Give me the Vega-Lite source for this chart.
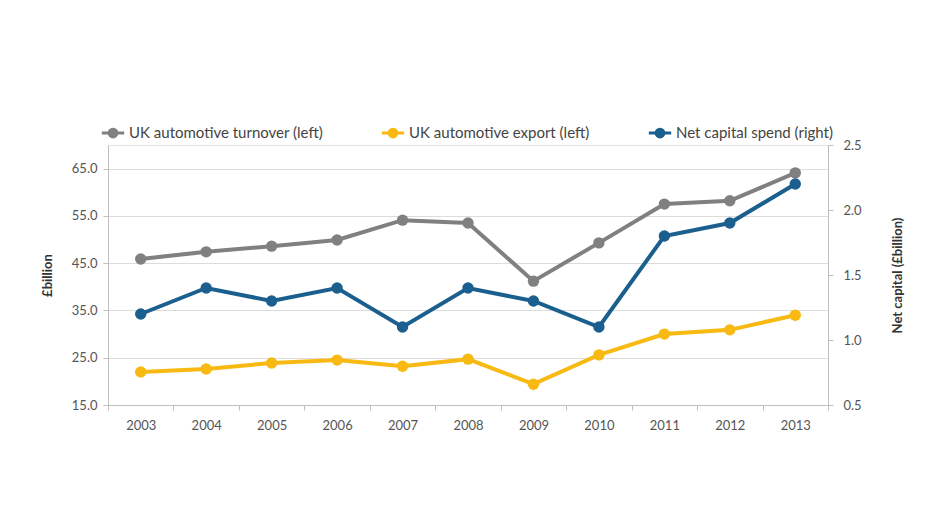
{
  "$schema": "https://vega.github.io/schema/vega-lite/v6.json",
  "autosize": {"type": "none"},
  "width": 720,
  "height": 260,
  "padding": {"left": 108, "top": 145, "right": 100, "bottom": 111},
  "background": "white",
  "config": {
    "font": "Lato",
    "view": {"stroke": "#e3e3e3", "strokeWidth": 1},
    "axis": {"labelFont": "Lato", "titleFont": "Lato", "labelColor": "#555555", "titleColor": "#333333", "labelFontSize": 13, "titleFontSize": 13, "titleFontWeight": "bold", "domainColor": "#bfbfbf", "tickColor": "#bfbfbf", "gridColor": "#dcdcdc"},
    "legend": {"labelFont": "Lato", "labelFontSize": 15, "labelColor": "#444444", "labelLimit": 400}
  },
  "data": {"values": [
    {"year": "2003", "series": "UK automotive turnover (left)", "value": 45.9},
    {"year": "2004", "series": "UK automotive turnover (left)", "value": 47.4},
    {"year": "2005", "series": "UK automotive turnover (left)", "value": 48.6},
    {"year": "2006", "series": "UK automotive turnover (left)", "value": 49.9},
    {"year": "2007", "series": "UK automotive turnover (left)", "value": 54.1},
    {"year": "2008", "series": "UK automotive turnover (left)", "value": 53.5},
    {"year": "2009", "series": "UK automotive turnover (left)", "value": 41.2},
    {"year": "2010", "series": "UK automotive turnover (left)", "value": 49.3},
    {"year": "2011", "series": "UK automotive turnover (left)", "value": 57.5},
    {"year": "2012", "series": "UK automotive turnover (left)", "value": 58.2},
    {"year": "2013", "series": "UK automotive turnover (left)", "value": 64.1},
    {"year": "2003", "series": "UK automotive export (left)", "value": 22.0},
    {"year": "2004", "series": "UK automotive export (left)", "value": 22.6},
    {"year": "2005", "series": "UK automotive export (left)", "value": 23.9},
    {"year": "2006", "series": "UK automotive export (left)", "value": 24.5},
    {"year": "2007", "series": "UK automotive export (left)", "value": 23.2},
    {"year": "2008", "series": "UK automotive export (left)", "value": 24.7},
    {"year": "2009", "series": "UK automotive export (left)", "value": 19.4},
    {"year": "2010", "series": "UK automotive export (left)", "value": 25.6},
    {"year": "2011", "series": "UK automotive export (left)", "value": 30.0},
    {"year": "2012", "series": "UK automotive export (left)", "value": 30.9},
    {"year": "2013", "series": "UK automotive export (left)", "value": 34.0},
    {"year": "2003", "series": "Net capital spend (right)", "value": 1.2},
    {"year": "2004", "series": "Net capital spend (right)", "value": 1.4},
    {"year": "2005", "series": "Net capital spend (right)", "value": 1.3},
    {"year": "2006", "series": "Net capital spend (right)", "value": 1.4},
    {"year": "2007", "series": "Net capital spend (right)", "value": 1.1},
    {"year": "2008", "series": "Net capital spend (right)", "value": 1.4},
    {"year": "2009", "series": "Net capital spend (right)", "value": 1.3},
    {"year": "2010", "series": "Net capital spend (right)", "value": 1.1},
    {"year": "2011", "series": "Net capital spend (right)", "value": 1.8},
    {"year": "2012", "series": "Net capital spend (right)", "value": 1.9},
    {"year": "2013", "series": "Net capital spend (right)", "value": 2.2}
  ]},
  "encoding": {
    "x": {"field": "year", "type": "ordinal", "scale": {"paddingInner": 0, "paddingOuter": 0}, "axis": {"title": null, "labelAngle": 0, "tickBand": "extent", "tickSize": 5, "labelPadding": 9, "grid": false}},
    "color": {"field": "series", "type": "nominal", "scale": {"domain": ["UK automotive turnover (left)", "UK automotive export (left)", "Net capital spend (right)"], "range": ["#808080", "#F7B912", "#1B5F8E"]},
      "legend": {"title": null, "orient": "none", "direction": "horizontal", "legendX": -8, "legendY": -25, "columnPadding": 52, "symbolType": "M-1,0L1,0M-0.35,0A0.35,0.35 0 1,1 0.35,0A0.35,0.35 0 1,1 -0.35,0", "symbolSize": 500, "symbolStrokeWidth": 3, "labelOffset": 3}}
  },
  "layer": [
    {
      "transform": [{"filter": "datum.series !== 'Net capital spend (right)'"}],
      "encoding": {
        "y": {"field": "value", "type": "quantitative", "scale": {"domain": [15, 70], "nice": false, "zero": false}, "axis": {"title": "£billion", "orient": "left", "values": [15, 25, 35, 45, 55, 65], "format": ".1f", "tickSize": 5, "labelPadding": 6, "titlePadding": 17, "grid": true, "domain": true}}
      },
      "layer": [
        {"mark": {"type": "line", "strokeWidth": 4}},
        {"mark": {"type": "point", "filled": true, "opacity": 1, "size": 130}}
      ]
    },
    {
      "transform": [{"filter": "datum.series === 'Net capital spend (right)'"}],
      "encoding": {
        "y": {"field": "value", "type": "quantitative", "scale": {"domain": [0.5, 2.5], "nice": false, "zero": false}, "axis": {"title": "Net capital (£billion)", "orient": "right", "values": [0.5, 1.0, 1.5, 2.0, 2.5], "format": ".1f", "tickSize": 5, "labelPadding": 10, "titlePadding": 43, "titleAngle": 270, "grid": false, "domain": true}}
      },
      "layer": [
        {"mark": {"type": "line", "strokeWidth": 4}},
        {"mark": {"type": "point", "filled": true, "opacity": 1, "size": 130}}
      ]
    }
  ],
  "resolve": {"scale": {"y": "independent"}}
}
